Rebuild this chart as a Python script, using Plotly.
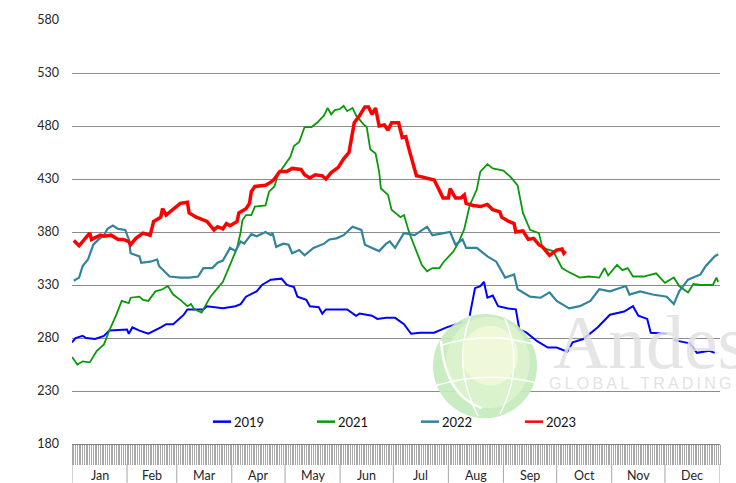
import pandas as pd
import plotly.graph_objects as go

# ---------------- data (day of year, price) ----------------
days_2019 = [1, 3, 7, 9, 14, 19, 22, 32, 33, 35,
             39, 44, 51, 54, 58, 64, 66, 75, 77, 86,
             93, 96, 99, 105, 108, 113, 119, 122, 126, 128,
             133, 135, 140, 142, 144, 156, 161, 163, 170, 173,
             178, 183, 188, 192, 197, 205, 212, 218, 221, 223,
             225, 228, 231, 233, 235, 238, 241, 246, 251, 253,
             257, 263, 269, 274, 280, 283, 289, 297, 304, 312,
             317, 320, 325, 327, 336, 338, 340, 345, 349, 353,
             360, 363]
vals_2019 = [276, 280, 282, 280, 279, 282, 287, 288, 284, 290,
             287, 284, 290, 293, 293, 302, 307, 307, 310, 308,
             310, 312, 319, 324, 330, 335, 336, 330, 328, 319,
             316, 310, 309, 303, 307, 307, 301, 303, 301, 298,
             299, 299, 293, 284, 285, 285, 290, 293, 295, None,
             301, 327, 329, 333, 318, 320, 310, 308, 307, 288,
             285, 277, 271, 271, 267, 276, 279, 290, 302, 305,
             310, 301, 298, 285, 284, None, 278, 276, 275, 266,
             268, 266]

days_2021 = [1, 4, 7, 11, 15, 19, 22, 26, 29, 33,
             34, 39, 41, 44, 48, 52, 55, 58, 62, 66,
             68, 70, 74, 76, 79, 83, 86, 90, 94, 96,
             97, 99, 102, 104, 110, 112, 115, 117, 120, 124,
             126, 129, 132, 136, 139, 143, 145, 147, 149, 152,
             154, 156, 159, 161, 165, 167, 169, 172, 174, 175,
             179, 181, 186, 188, 191, 195, 198, 201, 204, 208,
             210, 216, 219, 222, 225, 229, 231, 235, 238, 244,
             248, 252, 255, 259, 264, 266, 272, 277, 280, 287,
             292, 298, 301, 303, 308, 311, 314, 317, 323, 330,
             335, 340, 343, 348, 351, 355, 362, 364, 365]
vals_2021 = [262, 255, 258, 257, 268, 274, 287, 302, 315, 313,
             318, 319, 316, 315, 324, 326, 329, 321, 316, 310,
             312, 307, 304, 310, 319, 327, 333, 349, 365, 380,
             391, 396, 396, 404, 405, 418, 423, 434, 441, 451,
             461, 465, 479, 479, 483, 490, 497, 491, 495, 496,
             499, 494, 497, 490, 482, 479, 458, 454, 437, 421,
             415, 401, 394, 396, 379, 362, 349, 343, 346, 346,
             351, 362, 371, 383, 405, 420, 437, 444, 440, 438,
             432, 424, 398, 382, 379, 365, 362, 346, 343, 337,
             338, 337, 346, 339, 349, 344, 346, 338, 338, 341,
             332, 337, 329, 323, 331, 330, 330, 337, 333]

days_2022 = [2, 5, 7, 10, 13, 16, 19, 21, 24, 27,
             31, 33, 34, 39, 40, 45, 49, 50, 53, 56,
             62, 67, 72, 75, 80, 83, 86, 90, 93, 96,
             98, 102, 105, 110, 113, 114, 116, 120, 123, 125,
             129, 132, 137, 143, 146, 150, 154, 159, 164, 166,
             170, 174, 178, 180, 183, 188, 194, 201, 204, 214,
             217, 221, 223, 229, 235, 240, 245, 250, 252, 259,
             265, 270, 274, 281, 287, 293, 298, 304, 313, 315,
             321, 328, 336, 340, 343, 348, 355, 358, 363, 365]
vals_2022 = [334, 337, 348, 354, 368, 373, 377, 383, 386, 383,
             382, 373, 360, 357, 351, 352, 354, 348, 343, 338,
             337, 337, 338, 346, 346, 351, 353, 365, 362, 371,
             369, 378, 376, 380, 377, 379, 366, 369, 368, 360,
             363, 358, 365, 369, 373, 374, 377, 385, 382, 368,
             365, 362, 369, 371, 365, 379, 377, 385, 377, 380,
             368, 373, 365, 365, 357, 352, 337, 340, 326, 319,
             318, 323, 315, 308, 310, 315, 326, 324, 329, 321,
             324, 321, 319, 312, 324, 335, 340, 348, 357, 359]

days_2023 = [2, 5, 8, 11, 12, 17, 19, 23, 27, 30,
             33, 34, 37, 41, 45, 47, 51, 52, 54, 58,
             62, 66, 67, 71, 77, 81, 83, 86, 88, 90,
             94, 95, 99, 101, 102, 104, 110, 113, 115, 118,
             122, 125, 130, 132, 135, 138, 142, 144, 147, 151,
             154, 157, 159, 160, 163, 166, 168, 170, 172, 174,
             177, 179, 181, 185, 187, 189, 191, 193, 195, 198,
             202, 205, 208, 210, 213, 214, 217, 220, 222, 223,
             227, 231, 235, 238, 242, 243, 247, 250, 251, 255,
             258, 261, 264, 266, 270, 274, 277, 278, 279]
vals_2023 = [372, 367, 373, 379, 373, 377, 376, 377, 373, 373,
             371, 368, 374, 379, 377, 390, 394, 402, 396, 401,
             407, 408, 398, 394, 390, 382, 385, 383, 388, 386,
             390, 398, 402, 407, 418, 423, 424, 427, 430, 437,
             437, 440, 439, 434, 431, 434, 433, 430, 436, 441,
             449, 455, 471, 483, 490, 498, 498, 491, 497, 480,
             481, 476, 483, 483, 469, 470, 457, 446, 433, 432,
             430, 429, 419, 412, 412, 421, 412, 412, 415, 407,
             405, 404, 406, 401, 399, 394, 390, 388, 380, 381,
             373, 374, 368, 366, 358, 363, 364, 360, 362]

series_names = ["2019", "2021", "2022", "2023"]
series_colors = ["#0000FF", "#0A990A", "#31849B", "#FF0000"]
series_widths = [2, 1.8, 2.2, 3.5]
series_days = [days_2019, days_2021, days_2022, days_2023]
series_vals = [vals_2019, vals_2021, vals_2022, vals_2023]

month_labels = ["Jan", "Feb", "Mar", "Apr", "May", "Jun",
                "Jul", "Aug", "Sep", "Oct", "Nov", "Dec"]
y_ticks = [180, 230, 280, 330, 380, 430, 480, 530, 580]

BASE = pd.Timestamp("2023-01-01")


def to_dates(days):
    return [BASE + pd.Timedelta(days=d - 1) for d in days]


FONT = "Lato, 'Open Sans', sans-serif"

fig = go.Figure()
for name, col, w, d, v in zip(series_names, series_colors, series_widths,
                              series_days, series_vals):
    fig.add_trace(go.Scatter(x=to_dates(d), y=v, mode="lines", name=name,
                             line=dict(color=col, width=w),
                             connectgaps=False, showlegend=False))

# plot area: x 72..720 px, y 17..444 px
W, H = 736, 483
L, R, T, B = 72, 16, 17, 39
PW, PH = W - L - R, H - T - B


def px(xp):
    return (xp - L) / PW


def py(yp):
    return (T + PH - yp) / PH


shapes = []
annotations = []

# month separators and labels under the tick band
month_starts = [BASE + pd.DateOffset(months=i) for i in range(13)]
for ms in month_starts:
    shapes.append(dict(type="line", xref="x", yref="paper",
                       x0=ms, x1=ms, y0=py(464), y1=py(483),
                       line=dict(color="#a6a6a6", width=1)))
for i, lab in enumerate(month_labels):
    mid = month_starts[i] + (month_starts[i + 1] - month_starts[i]) / 2
    annotations.append(dict(xref="x", yref="paper", x=mid, y=py(476),
                            text=lab, showarrow=False, yanchor="middle",
                            font=dict(family=FONT, size=12.5, color="#262626")))

# watermark globe
shapes.append(dict(type="circle", xref="paper", yref="paper", layer="above",
                   x0=px(433), x1=px(537), y0=py(418), y1=py(313),
                   fillcolor="rgba(196,234,190,0.92)", line=dict(width=0)))
shapes.append(dict(type="circle", xref="paper", yref="paper", layer="above",
                   x0=px(446), x1=px(530), y0=py(408), y1=py(316),
                   fillcolor="rgba(220,243,205,0.95)", line=dict(width=0)))
shapes.append(dict(type="circle", xref="paper", yref="paper", layer="above",
                   x0=px(462), x1=px(518), y0=py(385), y1=py(325),
                   fillcolor="rgba(240,249,218,0.95)", line=dict(width=0)))
# white globe lines
shapes.append(dict(type="path", xref="paper", yref="paper", layer="above",
                   path=f"M {px(440)},{py(345)} Q {px(485)},{py(330)} {px(532)},{py(343)}",
                   line=dict(color="white", width=1.5)))
shapes.append(dict(type="path", xref="paper", yref="paper", layer="above",
                   path=f"M {px(436)},{py(385)} Q {px(485)},{py(370)} {px(535)},{py(382)}",
                   line=dict(color="white", width=1.5)))
shapes.append(dict(type="path", xref="paper", yref="paper", layer="above",
                   path=f"M {px(470)},{py(316)} Q {px(452)},{py(365)} {px(478)},{py(416)}",
                   line=dict(color="white", width=1.5)))
shapes.append(dict(type="path", xref="paper", yref="paper", layer="above",
                   path=f"M {px(505)},{py(318)} Q {px(525)},{py(365)} {px(500)},{py(414)}",
                   line=dict(color="white", width=1.5)))
shapes.append(dict(type="path", xref="paper", yref="paper", layer="above",
                   path=f"M {px(441)},{py(340)} Q {px(445)},{py(395)} {px(482)},{py(408)}",
                   line=dict(color="white", width=2.5)))

annotations.append(dict(xref="paper", yref="paper", x=px(551), y=py(341),
                        xanchor="left", yanchor="middle", showarrow=False,
                        text="Andes",
                        font=dict(family="Liberation Serif, serif", size=76,
                                  color="rgba(225,225,225,0.85)")))
annotations.append(dict(xref="paper", yref="paper", x=px(547), y=py(383),
                        xanchor="left", yanchor="middle", showarrow=False,
                        text="G\u2009L\u2009O\u2009B\u2009A\u2009L\u2002\u2009T\u2009R\u2009A\u2009D\u2009I\u2009N\u2009G",
                        font=dict(family="Liberation Sans, sans-serif", size=16,
                                  color="rgba(222,222,222,0.9)")))

# manual legend
leg_x = [213, 317, 421, 525]
for xs, name, col in zip(leg_x, series_names, series_colors):
    shapes.append(dict(type="line", xref="paper", yref="paper",
                       x0=px(xs), x1=px(xs + 18), y0=py(421.5), y1=py(421.5),
                       line=dict(color=col, width=2.5)))
    annotations.append(dict(xref="paper", yref="paper", x=px(xs + 19), y=py(421.5),
                            xanchor="left", yanchor="middle", showarrow=False,
                            text=name,
                            font=dict(family=FONT, size=13, color="#111111")))

fig.update_layout(
    width=W, height=H,
    margin=dict(l=L, r=R, t=T, b=B, pad=0),
    paper_bgcolor="white", plot_bgcolor="white",
    font=dict(family=FONT, size=13, color="#262626"),
    shapes=shapes, annotations=annotations,
    showlegend=False,
)
fig.update_xaxes(
    type="date",
    range=[BASE, BASE + pd.DateOffset(years=1)],
    showgrid=False, zeroline=False,
    showline=True, linecolor="#808080", linewidth=1,
    ticks="outside", ticklen=20, tickwidth=1, tickcolor="#a8a8a8",
    tick0=BASE, dtick=86400000,
    showticklabels=False,
)
fig.update_yaxes(
    range=[180, 580], tickvals=y_ticks,
    showgrid=True, gridcolor="#8c8c8c", gridwidth=1,
    zeroline=False, showline=False, ticks="",
    ticklabelstandoff=12,
    tickfont=dict(family=FONT, size=12.5, color="#262626"),
)

fig.write_html(
    "out.html",
    config={"displayModeBar": False},
    post_script="document.body.style.margin='0';document.body.style.overflow='hidden';",
)
